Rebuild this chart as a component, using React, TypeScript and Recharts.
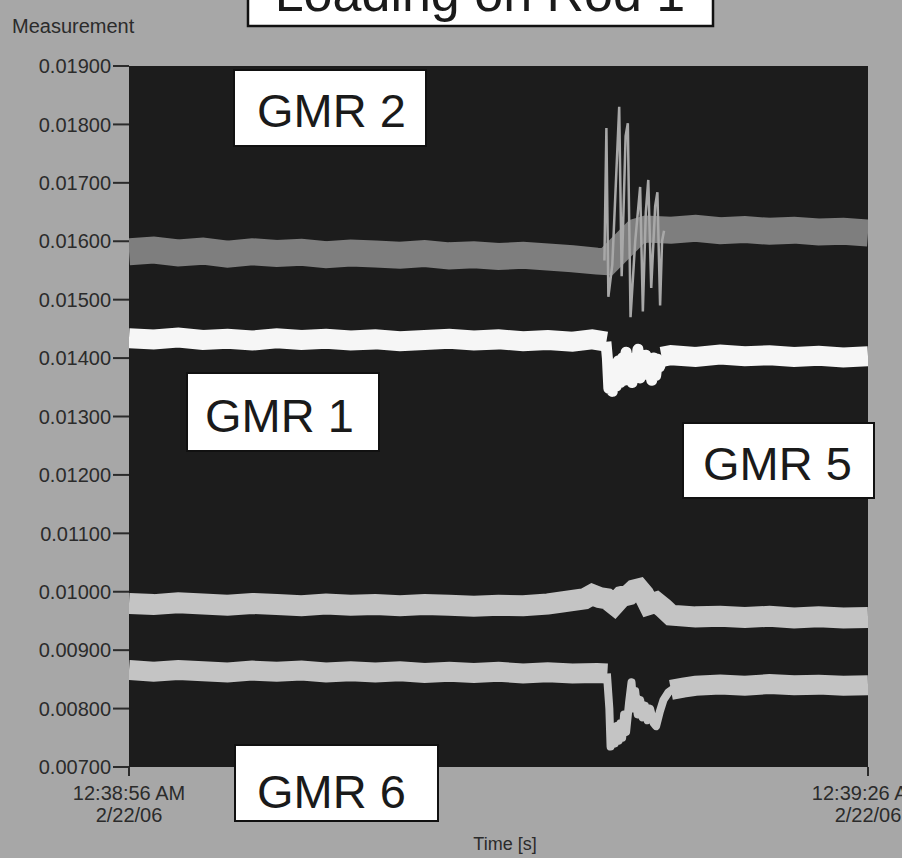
import React from "react";
import { LineChart, Line, XAxis, YAxis, CartesianGrid } from "recharts";

// ---- data (time in seconds from 12:38:56 AM, value = measurement) ----
const yTicks = [0.007, 0.008, 0.009, 0.01, 0.011, 0.012, 0.013, 0.014, 0.015, 0.016, 0.017, 0.018, 0.019];
const xTicks = [0, 30];
const xTickLabels = [
  ["12:38:56 AM", "2/22/06"],
  ["12:39:26 AM", "2/22/06"],
];

const gmr2Band: [number, number][] = [
  [0, 0.01582], [1, 0.01585], [2, 0.0158], [3, 0.01583], [4, 0.01578], [5, 0.01582],
  [6, 0.01579], [7, 0.01581], [8, 0.01577], [9, 0.0158], [10, 0.01578], [11, 0.01576],
  [12, 0.01579], [13, 0.01575], [14, 0.01577], [15, 0.01574], [16, 0.01576], [17, 0.01573],
  [18, 0.0157], [19, 0.01566], [19.4, 0.01565], [20.6, 0.01616], [21, 0.01621], [22, 0.01619],
  [23, 0.01622], [24, 0.01618], [25, 0.0162], [26, 0.01617], [27, 0.01619], [28, 0.01616],
  [29, 0.01617], [30, 0.01614],
];

const gmr2Burst: [number, number][] = [
  [19.3, 0.01567], [19.38, 0.01794], [19.46, 0.01505], [19.62, 0.0156], [19.9, 0.0183],
  [20.0, 0.0154], [20.16, 0.0178], [20.25, 0.01802], [20.36, 0.0147], [20.55, 0.016],
  [20.75, 0.01693], [20.86, 0.0148], [20.98, 0.0165], [21.08, 0.01705], [21.2, 0.0152],
  [21.36, 0.0166], [21.45, 0.01684], [21.56, 0.0149], [21.64, 0.016], [21.72, 0.01618],
];

const gmr1Pre: [number, number][] = [
  [0, 0.01434], [1, 0.01432], [2, 0.01435], [3, 0.01431], [4, 0.01433], [5, 0.0143],
  [6, 0.01434], [7, 0.01431], [8, 0.01433], [9, 0.0143], [10, 0.01432], [11, 0.01429],
  [12, 0.01431], [13, 0.01433], [14, 0.0143], [15, 0.01432], [16, 0.01429], [17, 0.01431],
  [18, 0.01428], [18.8, 0.01432], [19.38, 0.01428],
];

const gmr1Event: [number, number][] = [
  [19.36, 0.01428], [19.42, 0.014], [19.48, 0.01348], [19.55, 0.0139], [19.62, 0.01343],
  [19.7, 0.0138], [19.78, 0.01352], [19.86, 0.01395], [19.94, 0.01358], [20.02, 0.014],
  [20.1, 0.01362], [20.18, 0.0141], [20.26, 0.01368], [20.34, 0.01395], [20.42, 0.01358],
  [20.5, 0.014], [20.58, 0.0137], [20.66, 0.01415], [20.74, 0.01366], [20.82, 0.01398],
  [20.9, 0.01372], [20.98, 0.01405], [21.06, 0.01376], [21.14, 0.01395], [21.22, 0.01362],
  [21.3, 0.014], [21.38, 0.0137], [21.46, 0.01398], [21.54, 0.01385], [21.65, 0.01402],
];

const gmr1Post: [number, number][] = [
  [21.62, 0.01402], [22, 0.01405], [23, 0.01402], [24, 0.01406], [25, 0.01403], [26, 0.01405],
  [27, 0.01402], [28, 0.01404], [29, 0.01401], [30, 0.01403],
];

const gmr5: [number, number][] = [
  [0, 0.0098], [1, 0.00978], [2, 0.00981], [3, 0.00979], [4, 0.00977], [5, 0.0098],
  [6, 0.00978], [7, 0.00976], [8, 0.00979], [9, 0.00977], [10, 0.00978], [11, 0.00976],
  [12, 0.00978], [13, 0.00977], [14, 0.00975], [15, 0.00977], [16, 0.00976], [17, 0.00979],
  [17.5, 0.00982], [18, 0.00985], [18.5, 0.00988], [18.8, 0.00995], [19.1, 0.0099],
  [19.4, 0.00988], [19.7, 0.00978], [20.0, 0.00992], [20.3, 0.00995], [20.5, 0.01003],
  [20.7, 0.01005], [20.9, 0.00995], [21.1, 0.00978], [21.4, 0.00982], [21.7, 0.00972],
  [22.0, 0.0096], [23, 0.00957], [24, 0.00958], [25, 0.00956], [26, 0.00958], [27, 0.00955],
  [28, 0.00957], [29, 0.00955], [30, 0.00956],
];

const gmr6Pre: [number, number][] = [
  [0, 0.00866], [1, 0.00863], [2, 0.00866], [3, 0.00864], [4, 0.00862], [5, 0.00865],
  [6, 0.00863], [7, 0.00865], [8, 0.00862], [9, 0.00864], [10, 0.00862], [11, 0.00864],
  [12, 0.00861], [13, 0.00863], [14, 0.00861], [15, 0.00863], [16, 0.0086], [17, 0.00862],
  [18, 0.0086], [19, 0.00861], [19.42, 0.0086],
];

const gmr6Event: [number, number][] = [
  [19.4, 0.0086], [19.5, 0.008], [19.55, 0.00735], [19.65, 0.0076], [19.72, 0.0074],
  [19.8, 0.0077], [19.88, 0.00745], [19.95, 0.00775], [20.02, 0.0075], [20.1, 0.0079],
  [20.18, 0.0076], [20.3, 0.0081], [20.4, 0.00845], [20.48, 0.008], [20.55, 0.0083],
  [20.65, 0.0079], [20.75, 0.00815], [20.85, 0.00785], [20.95, 0.00805], [21.05, 0.0078],
  [21.15, 0.008], [21.3, 0.00775], [21.4, 0.0077], [21.55, 0.00795], [21.7, 0.00815],
  [21.9, 0.00828], [22.1, 0.00834],
];

const gmr6Post: [number, number][] = [
  [22.0, 0.00832], [22.5, 0.00836], [23, 0.00839], [24, 0.00841], [25, 0.00839], [26, 0.00842],
  [27, 0.0084], [28, 0.00841], [29, 0.00839], [30, 0.0084],
];

const rows = (arr: [number, number][]) => arr.map(([t, v]) => ({ t, v }));

const FONT = "'Liberation Sans', Arial, sans-serif";
const TICK_COLOR = "#2b2b2b";

const YTick = (props: any) => {
  const { x, y, payload } = props;
  return (
    <text x={x} y={y} dy="0.36em" textAnchor="end" fontFamily={FONT} fontSize={20} fill={TICK_COLOR}>
      {Number(payload.value).toFixed(5)}
    </text>
  );
};

const XTick = (props: any) => {
  const { x, y, payload } = props;
  const idx = xTicks.indexOf(payload.value);
  const lines = xTickLabels[idx] || [String(payload.value), ""];
  return (
    <g>
      <text x={x} y={y + 22} textAnchor="middle" fontFamily={FONT} fontSize={20} fill={TICK_COLOR}>
        {lines[0]}
      </text>
      <text x={x} y={y + 44} textAnchor="middle" fontFamily={FONT} fontSize={20} fill={TICK_COLOR}>
        {lines[1]}
      </text>
    </g>
  );
};

const labelBoxes = [
  { text: "GMR 2", x: 234, y: 70, w: 192, h: 76, tx: 257, ty: 127 },
  { text: "GMR 1", x: 187, y: 373, w: 192, h: 78, tx: 205, ty: 432 },
  { text: "GMR 5", x: 683, y: 423, w: 191, h: 75, tx: 703, ty: 480 },
  { text: "GMR 6", x: 235, y: 745, w: 203, h: 76, tx: 257, ty: 808 },
];

export default function App() {
  const common = { dataKey: "v", type: "linear" as const, dot: false, activeDot: false, isAnimationActive: false };
  return (
    <div style={{ position: "absolute", left: 0, top: 0, width: 902, height: 858, overflow: "hidden", background: "#a7a7a7" }}>
      <LineChart width={902} height={858} margin={{ top: 66, right: 34, bottom: 31, left: 0 }}>
        <CartesianGrid horizontal={false} vertical={false} fill="#1c1c1c" fillOpacity={1} />
        <XAxis
          type="number"
          dataKey="t"
          domain={[0, 30]}
          ticks={xTicks}
          interval={0}
          allowDataOverflow
          axisLine={false}
          tickSize={9}
          tickLine={{ stroke: TICK_COLOR, strokeWidth: 2 }}
          tick={<XTick />}
          height={60}
        />
        <YAxis
          type="number"
          domain={[0.007, 0.019]}
          ticks={yTicks}
          interval={0}
          allowDataOverflow
          axisLine={false}
          width={129}
          tickSize={16}
          tickMargin={2}
          tickLine={{ stroke: TICK_COLOR, strokeWidth: 2 }}
          tick={<YTick />}
        />
        <Line {...common} data={rows(gmr2Band)} stroke="#7e7e7e" strokeWidth={27} strokeLinecap="butt" />
        <Line {...common} data={rows(gmr5)} stroke="#c4c4c4" strokeWidth={21} strokeLinecap="butt" />
        <Line {...common} data={rows(gmr6Pre)} stroke="#c4c4c4" strokeWidth={20} strokeLinecap="butt" />
        <Line {...common} data={rows(gmr6Event)} stroke="#c4c4c4" strokeWidth={8} strokeLinejoin="round" />
        <Line {...common} data={rows(gmr6Post)} stroke="#c4c4c4" strokeWidth={20} strokeLinecap="butt" />
        <Line {...common} data={rows(gmr1Pre)} stroke="#f6f6f6" strokeWidth={20} strokeLinecap="butt" />
        <Line {...common} data={rows(gmr1Event)} stroke="#f6f6f6" strokeWidth={11} strokeLinejoin="round" />
        <Line {...common} data={rows(gmr1Post)} stroke="#f6f6f6" strokeWidth={20} strokeLinecap="butt" />
        <Line {...common} data={rows(gmr2Burst)} stroke="#a8a8a8" strokeWidth={2.5} strokeLinejoin="miter" />
      </LineChart>
      <svg width={902} height={858} style={{ position: "absolute", left: 0, top: 0, pointerEvents: "none" }}>
        <text x={12} y={33} fontFamily={FONT} fontSize={20} fill={TICK_COLOR}>Measurement</text>
        <text x={505} y={850} textAnchor="middle" fontFamily={FONT} fontSize={18} fill={TICK_COLOR}>Time [s]</text>
        <rect x={248} y={-10} width={465} height={36} fill="#ffffff" stroke="#111" strokeWidth={2.5} />
        <text x={480} y={11} textAnchor="middle" fontFamily={FONT} fontSize={52} fill="#1a1a1a">Loading on Rod 1</text>
        {labelBoxes.map((b) => (
          <g key={b.text}>
            <rect x={b.x} y={b.y} width={b.w} height={b.h} fill="#ffffff" stroke="#111" strokeWidth={2} />
            <text x={b.tx} y={b.ty} fontFamily={FONT} fontSize={47} fill="#1a1a1a">{b.text}</text>
          </g>
        ))}
      </svg>
    </div>
  );
}
